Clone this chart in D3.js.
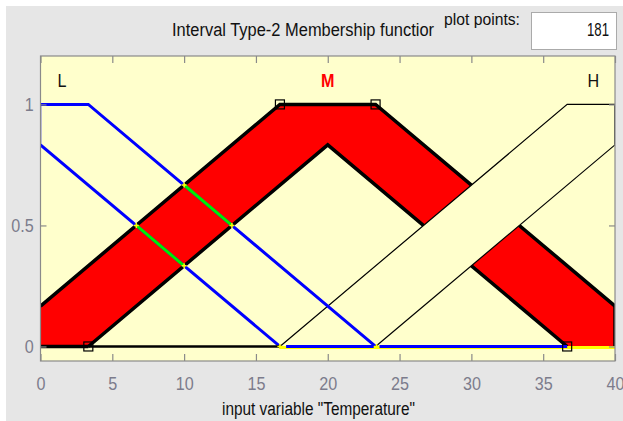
<!DOCTYPE html>
<html><head><meta charset="utf-8">
<script src="https://cdn.jsdelivr.net/npm/d3@7/dist/d3.min.js"></script>
<style>body{margin:0;background:#fff}svg{display:block}</style>
</head><body>
<script>
// ---- data ----
const xTicks = [0, 5, 10, 15, 20, 25, 30, 35, 40];
const yTicks = [0, 0.5, 1];
const yTickLabels = ["0", "0.5", "1"];
const mfNames = ["L", "M", "H"];
const mfLabelX = [1.5, 20, 38.5];
const L_upper = [[0, 1], [3.33, 1], [23.33, 0]];
const L_lower = [[0, 0.833], [16.67, 0]];
const L_edge = [[0, 0.833], [0, 1]];
const M_upper = [[0, 0.167], [16.67, 1], [23.33, 1], [40, 0.167]];
const M_lower = [[0, 0], [3.33, 0], [20, 0.833], [36.67, 0], [40, 0]];
const H_upper = [[0, 0], [16.67, 0], [36.67, 1], [40, 1]];
const H_lower = [[0, 0], [23.33, 0], [40, 0.833]];
const H_edge = [[40, 0.833], [40, 1]];
const greenSegs = [[[10, 0.667], [13.33, 0.5]], [[6.67, 0.5], [10, 0.333]]];
const crossPts = [[10, 0.667], [13.33, 0.5], [6.67, 0.5], [10, 0.333], [16.67, 0], [23.4, 0]];
const baseBlack = [[0, 0], [16.67, 0]];
const baseYellow = [[16.67, 0], [40, 0]];
const baseBlue = [[[17.1, 0], [23.2, 0]], [[23.6, 0], [36.67, 0]]];
const squares = [[3.33, 0], [16.67, 1], [23.33, 1], [36.67, 0]];
const plotPoints = "181";

(function () {
const W = 623, H = 421;
const svg = d3.select("body").append("svg").attr("width", W).attr("height", H);
svg.append("rect").attr("x", 6).attr("y", 6).attr("width", W - 6).attr("height", H - 6).attr("fill", "#e6e6e6");

const pL = 40.5, pR = 615, pT = 56, pB = 361;
const x = d3.scaleLinear().domain([0, 40]).range([pL, pR]);
const y = d3.scaleLinear().domain([-0.06, 1.2]).range([pB, pT]);
const line = d3.line().x(d => x(d[0])).y(d => y(d[1]));

const font = "'Liberation Sans', Arial, sans-serif";

// header
svg.append("text").attr("x", 172).attr("y", 36).attr("font-family", font).attr("font-size", 18)
  .attr("fill", "#111").attr("textLength", 262).attr("lengthAdjust", "spacingAndGlyphs")
  .text("Interval Type-2 Membership functior");
svg.append("text").attr("x", 444).attr("y", 25).attr("font-family", font).attr("font-size", 17)
  .attr("fill", "#111").attr("textLength", 76).attr("lengthAdjust", "spacingAndGlyphs")
  .text("plot points:");
svg.append("rect").attr("x", 531.5).attr("y", 12.5).attr("width", 85).attr("height", 37)
  .attr("fill", "#fff").attr("stroke", "#aaa");
svg.append("text").attr("x", 587).attr("y", 36).attr("font-family", font)
  .attr("font-size", 18).attr("fill", "#111").attr("textLength", 22).attr("lengthAdjust", "spacingAndGlyphs")
  .text(plotPoints);

// plot background
svg.append("rect").attr("x", pL).attr("y", pT).attr("width", pR - pL).attr("height", pB - pT)
  .attr("fill", "#ffffcc");

const g = svg.append("g");
g.append("clipPath").attr("id", "clip").append("rect")
  .attr("x", pL).attr("y", pT).attr("width", pR - pL).attr("height", pB - pT);
const p = g.append("g").attr("clip-path", "url(#clip)");

// M patch (red)
const mPoly = M_upper.concat(M_lower.slice().reverse());
p.append("path").attr("d", line(mPoly) + "Z").attr("fill", "#ff0000");
p.append("path").attr("d", line(M_upper)).attr("fill", "none").attr("stroke", "#000").attr("stroke-width", 3.5);
p.append("path").attr("d", line(M_lower.slice(1, 4))).attr("fill", "none").attr("stroke", "#000").attr("stroke-width", 3.5);
p.append("path").attr("d", line([[40, 0], [40, 0.167]])).attr("stroke", "#000").attr("stroke-width", 3.5);

// H patch (background colour)
const hPoly = H_upper.concat(H_lower.slice().reverse());
p.append("path").attr("d", line(hPoly) + "Z").attr("fill", "#ffffcc");
p.append("path").attr("d", line(H_upper.slice(1))).attr("fill", "none").attr("stroke", "#000").attr("stroke-width", 1.2);
p.append("path").attr("d", line(H_lower.slice(1))).attr("fill", "none").attr("stroke", "#000").attr("stroke-width", 1.2);
p.append("path").attr("d", line(H_edge)).attr("stroke", "#000").attr("stroke-width", 1.5);

// L lines
p.append("path").attr("d", line(L_upper)).attr("fill", "none").attr("stroke", "#0000ff").attr("stroke-width", 3);
p.append("path").attr("d", line(L_lower)).attr("fill", "none").attr("stroke", "#0000ff").attr("stroke-width", 3);
p.append("path").attr("d", line(L_edge)).attr("stroke", "#0000ff").attr("stroke-width", 1.5);

// highlighted segments
greenSegs.forEach(s => p.append("path").attr("d", line(s)).attr("stroke", "#00ee00").attr("stroke-width", 3));

// base lines
p.append("path").attr("d", line(baseYellow)).attr("stroke", "#ffff00").attr("stroke-width", 3)
  .attr("transform", "translate(0,1)");
p.append("path").attr("d", line(baseBlack)).attr("stroke", "#000").attr("stroke-width", 2.5);
p.append("path").attr("d", line([[0, 0], [3.33, 0]])).attr("stroke", "#000").attr("stroke-width", 3.5);
baseBlue.forEach(s => p.append("path").attr("d", line(s)).attr("stroke", "#0000ff").attr("stroke-width", 3));

// yellow crosses
crossPts.forEach(c => {
  const cx = x(c[0]), cy = y(c[1]);
  p.append("path").attr("d", `M${cx - 2.5},${cy}H${cx + 2.5}M${cx},${cy - 2.5}V${cy + 2.5}`)
    .attr("stroke", "#ffff00").attr("stroke-width", 1.5);
});

// squares
squares.forEach(s => {
  g.append("rect").attr("x", x(s[0]) - 4.5).attr("y", y(s[1]) - 4.5).attr("width", 9).attr("height", 9)
    .attr("fill", "none").attr("stroke", "#000").attr("stroke-width", 1.2);
});

// MF labels
mfNames.forEach((n, i) => {
  g.append("text").attr("x", x(mfLabelX[i])).attr("y", 87).attr("text-anchor", "middle")
    .attr("font-family", font).attr("font-size", 19).attr("font-weight", n === "M" ? "bold" : "normal")
    .attr("fill", n === "M" ? "#ff0000" : "#111")
    .attr("transform", `translate(${x(mfLabelX[i])},0) scale(0.85,1) translate(${-x(mfLabelX[i])},0)`)
    .text(n);
});

// axes box and ticks
const axisCol = "#8a8a8a";
g.append("rect").attr("x", pL).attr("y", pT).attr("width", pR - pL).attr("height", pB - pT)
  .attr("fill", "none").attr("stroke", axisCol).attr("stroke-width", 1.2);
const xAxisB = d3.axisBottom(x).tickValues(xTicks).tickSize(-7).tickPadding(16).tickFormat(d3.format("d"));
const gxb = svg.append("g").attr("transform", `translate(0,${pB})`).call(xAxisB);
const xAxisT = d3.axisTop(x).tickValues(xTicks).tickSize(-7).tickFormat("");
const gxt = svg.append("g").attr("transform", `translate(0,${pT})`).call(xAxisT);
const yAxisL = d3.axisLeft(y).tickValues(yTicks).tickSize(-6).tickPadding(8).tickFormat((d, i) => yTickLabels[i]);
const gyl = svg.append("g").attr("transform", `translate(${pL},0)`).call(yAxisL);
const yAxisR = d3.axisRight(y).tickValues(yTicks).tickSize(-6).tickFormat("");
const gyr = svg.append("g").attr("transform", `translate(${pR},0)`).call(yAxisR);
[gxb, gxt, gyl, gyr].forEach(a => {
  a.select(".domain").remove();
  a.selectAll(".tick line").attr("stroke", axisCol).attr("stroke-width", 1.2);
  a.selectAll("text").attr("font-family", font).attr("font-size", 19).attr("fill", "#7c7c8c")
    .attr("transform", "scale(0.85,1)");
});

svg.append("text").attr("x", 222).attr("y", 415).attr("font-family", font)
  .attr("font-size", 18).attr("fill", "#111").attr("textLength", 193).attr("lengthAdjust", "spacingAndGlyphs")
  .text('input variable "Temperature"');
})();
</script>
</body></html>
